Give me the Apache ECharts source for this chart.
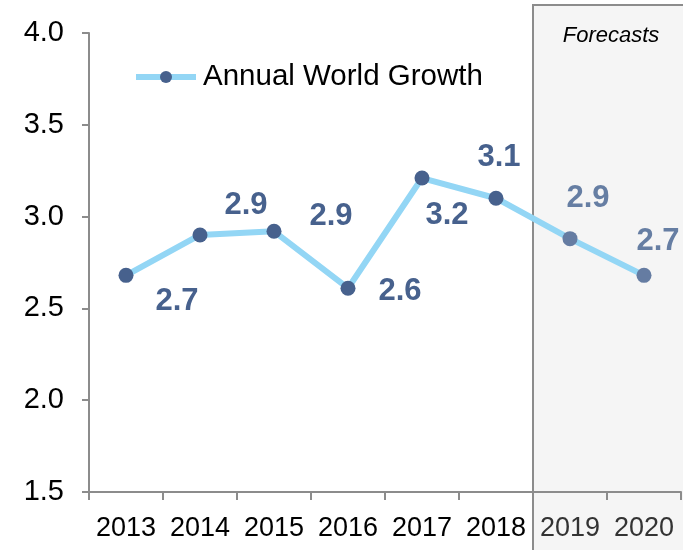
<!DOCTYPE html>
<html><head><meta charset="utf-8">
<script src="https://cdn.jsdelivr.net/npm/echarts@6/dist/echarts.min.js"></script>
<style>html,body{margin:0;padding:0;background:#fff}#c{width:683px;height:550px}</style>
</head><body><div id="c"></div>
<script>
var years = ['2013','2014','2015','2016','2017','2018','2019','2020'];
var growth = [2.68, 2.90, 2.92, 2.61, 3.21, 3.10, 2.88, 2.68];
var forecastFrom = '2019';
var yTicks = [1.5, 2.0, 2.5, 3.0, 3.5, 4.0];
var labelOffsets = [[51,26],[46,-30],[57,-15],[52,3],[25,37],[3,-41],[18,-40],[14,-34]];

var FONT = 'Liberation Sans, Arial, sans-serif';
var chart = echarts.init(document.getElementById('c'));
var fIdx = years.indexOf(forecastFrom);
var data = growth.map(function(v,i){
  var fc = i >= fIdx;
  return {
    value: v,
    itemStyle: {color: fc ? '#657ca2' : '#47618d'},
    label: {offset: labelOffsets[i], color: fc ? '#667ea3' : '#47618d'}
  };
});
chart.setOption({
  animation:false,
  grid:{left:89,right:2,top:33,bottom:58},
  legend:{
    data:['Annual World Growth'],
    left:128, top:57, itemWidth:60, itemHeight:15, itemGap:4,
    lineStyle:{width:6, color:'#93d6f5'},
    itemStyle:{color:'#47618d'},
    textStyle:{fontFamily:FONT, fontSize:29.5, color:'#000', padding:[0,0,0,2]}
  },
  xAxis:{
    type:'category', data:years, boundaryGap:true,
    axisLine:{lineStyle:{color:'#8c8c8c', width:2}},
    axisTick:{show:true, length:8, interval:0, lineStyle:{color:'#8c8c8c', width:2}},
    axisLabel:{fontFamily:FONT, fontSize:27, margin:23, interval:0,
      color:function(v,i){ return years.indexOf(v) >= fIdx ? '#333' : '#000'; }}
  },
  yAxis:{
    type:'value', min:1.5, max:4.0, interval:0.5,
    axisLine:{show:true, lineStyle:{color:'#8c8c8c', width:2}},
    axisTick:{show:true, length:7, lineStyle:{color:'#8c8c8c', width:2}},
    splitLine:{show:false},
    axisLabel:{fontFamily:FONT, fontSize:29, color:'#000', margin:25,
      formatter:function(v){ return yTicks.indexOf(v) >= 0 ? v.toFixed(1) : ''; }}
  },
  series:[{
    name:'Annual World Growth', type:'line', data:data,
    symbol:'circle', symbolSize:15, z:5,
    lineStyle:{color:'#93d6f5', width:6},
    itemStyle:{color:'#47618d'},
    label:{show:true, position:'inside', fontFamily:FONT, fontSize:31, fontWeight:'bold',
      formatter:function(p){ return p.value.toFixed(1); }}
  }]
});
// forecast box positioned from the category scale
var step = chart.convertToPixel({xAxisIndex:0}, years[1]) - chart.convertToPixel({xAxisIndex:0}, years[0]);
var xStart = chart.convertToPixel({xAxisIndex:0}, forecastFrom) - step/2;
chart.setOption({
  graphic:[
    {type:'rect', z:-10, shape:{x:xStart, y:5, width:683 - xStart + 5, height:560},
     style:{fill:'#f5f5f5', stroke:'#8c8c8c', lineWidth:2}},
    {type:'text', z:10, x:(xStart+683)/2 + 3, y:36,
     style:{text:'Forecasts', fontFamily:FONT, fontSize:22, fontStyle:'italic', fill:'#000', align:'center', verticalAlign:'middle'}}
  ]
});
</script></body></html>
